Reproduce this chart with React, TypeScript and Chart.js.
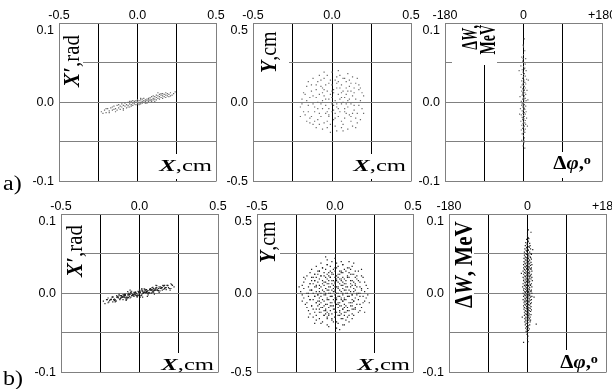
import React, { useEffect, useRef } from 'react';
import { Chart, registerables } from 'chart.js';

Chart.register(...registerables);

// ---------- tick labels ----------
const cmTickLabels = ['-0.5', '', '0.0', '', '0.5'];
const radTickLabels = ['-0.1', '', '0.0', '', '0.1'];
const mevTickLabels = ['-0.1', '', '0.0', '', '0.1'];
const phaseTickLabels = ['-180', '', '0', '', '+180'];

// ---------- data (flat x,y pairs) ----------
// a1 / b1: X in 0.01 cm, X' in 0.001 rad
const a1Pts = [
  -23,-12, -21,-10, -20,-13, -19,-8, -18,-11, -17,-7, -16,-10, -15,-9, -15,-5, -14,-8, -13,-10, -13,-4, -12,-7, -12,-3,
  -11,-9, -11,-5, -10,-6, -10,-2, -9,-8, -9,-4, -8,-5, -8,-1, -7,-7, -7,-3, -6,-4, -6,0, -5,-6, -5,-2, -5,1, -4,-3,
  -4,-5, -3,-1, -3,-4, -3,2, -2,-2, -2,1, -1,-3, -1,0, -1,2, 0,-2, 0,1, 0,3, 1,-1, 1,2, 1,-3, 2,0, 2,3, 2,-2, 3,1, 3,4,
  3,-1, 4,2, 4,0, 4,5, 5,1, 5,3, 5,-1, 6,4, 6,2, 7,5, 7,1, 7,3, 8,2, 8,6, 8,4, 9,3, 9,7, 9,1, 10,5, 10,8, 10,3, 11,4,
  11,7, 12,6, 12,9, 12,3, 13,5, 13,8, 14,7, 14,10, 14,4, 15,6, 15,9, 16,8, 16,11, 16,5, 17,7, 17,10, 18,9, 18,6, 19,11,
  19,8, 20,10, 20,7, 21,12, 22,9, 23,11, 24,13, -22,-14, -20,-8, -18,-13, -16,-6, -14,-12, -9,-10, -6,-6, -4,1, 2,5,
  6,-1, 11,1, 13,12, 15,11, 18,12, 21,8,
];
const b1Pts = [
  -22,-13, -21,-8, -20,-6, -19,-9, -18,-8, -17,-5, -16,-9, -15,-10, -14,-5, -13,-3, -12,-6, -11,-5, -10,-2, -9,-6, -8,-7,
  -7,-2, -6,0, -5,-3, -4,-2, -3,1, -2,-3, -1,-3, 0,1, 1,3, 2,0, 3,1, 4,4, 5,0, 6,0, 7,4, 8,7, 9,3, 10,4, 11,7, 12,3,
  13,3, 14,7, 15,10, 16,6, 17,7, 18,10, 19,6, 20,6, 21,10,
  -20.5,-8, -19.5,-11, -18.5,-8, -17.5,-5, -16.5,-8, -15.5,-11, -14.5,-5, -13.5,-5, -12.5,-8, -11.5,-5, -10.5,-2, -9.5,-5,
  -8.5,-8, -7.5,-2, -6.5,-2, -5.5,-5, -4.5,-2, -3.5,1, -2.5,-2, -1.5,-5, -0.5,2, 0.5,1, 1.5,-2, 2.5,1, 3.5,4, 4.5,1, 5.5,-2,
  6.5,5, 7.5,4, 8.5,2, 9.5,4, 10.5,7, 11.5,4, 12.5,1, 13.5,8, 14.5,7, 15.5,5, 16.5,7, 17.5,10, 18.5,7, 19.5,4, 20.5,11,
  -18,-7.5, -17,-4.5, -16,-7.5, -15,-9.5, -14,-4.5, -13,-1.5, -12,-6.5, -11,-4.5, -10,-3.5, -9,-1.5, -8,-4.5, -7,-5.5,
  -6,-1.5, -5,2.5, -4,-3.5, -3,-0.5, -2,-0.5, -1,2.5, 0,-0.5, 1,-2.5, 2,2.5, 3,5.5, 4,0.5, 5,2.5, 6,3.5, 7,5.5, 8,3.5,
  9,1.5, 10,5.5, 11,9.5, 12,3.5, 13,6.5, 14,6.5, 15,9.5, 16,6.5, 17,4.5, 18,9.5,
  -15.5,-8, -14.5,-3, -13.5,-6, -12.5,-7, -11.5,-3, -10.5,-8, -9.5,-3, -8.5,-9, -7.5,2, -6.5,-4, -5.5,1, -4.5,-2, -3.5,-4,
  -2.5,1, -1.5,-4, -0.5,1, 0.5,-5, 1.5,6, 2.5,0, 3.5,5, 4.5,2, 5.5,0, 6.5,5, 7.5,0, 8.5,5, 9.5,-1, 10.5,10, 11.5,4,
  12.5,8, 13.5,6, 14.5,4, 15.5,9,
  -12,-3, -11,-5, -10,-5, -9,-3, -8,-6, -7,0, -6,-6, -5,0, -4,-2, -3,-2, -2,0, -1,-2, 0,3, 1,-3, 2,3, 3,1, 4,1, 5,3,
  6,1, 7,6, 8,1, 9,6, 10,4, 11,4, 12,6,
  -10.5,-4.5, -9.5,-1.5, -8.5,-5.5, -7.5,-5.5, -6.5,-1.5, -5.5,1.5, -4.5,-2.5, -3.5,-1.5, -2.5,1.5, -1.5,-2.5, -0.5,-2.5,
  0.5,1.5, 1.5,4.5, 2.5,0.5, 3.5,2.5, 4.5,4.5, 5.5,0.5, 6.5,0.5, 7.5,4.5, 8.5,7.5, 9.5,3.5, 10.5,5.5,
  -20,-12, -23,-10, 22,8, 20,12, -17,-11, 16,10, 5,-4, -6,4, 0,5, 2,-5,
];

// a2 / b2: X and Y in 0.01 cm
const a2Pts = [
  3,12, -5,8, 10,-3, -12,4, 7,15, -2,-9, 14,6, -8,-14, 0,3, 5,-6, -15,-2, 18,1, -3,17, 9,9, -10,11, 12,-12, -6,-4, 2,-15,
  16,-7, -18,6, 4,20, -1,-19, 11,2, -13,-9, 6,-1, -7,14, 15,12, -4,2, 1,8, 8,-10, -11,-6, 19,-4, -16,10, 3,-3, -9,0,
  13,16, -2,12, 6,6, -14,-13, 10,-17, 0,-6, -5,19, 17,8, -20,-3, 2,1, 7,-14, -8,5, 12,-1, -3,-12, 9,13, -12,15, 15,-10,
  1,-2, -6,9, 20,4, -17,-8, 4,-9, -1,5, 11,10, -10,-16, 5,17, -19,2, 14,-5, -4,-7, 8,3, -7,-1, 3,-18, 16,15, -13,7, 0,11,
  6,-12, -15,13, 10,7, -2,-4, 18,-11, -9,-11, 7,0, -5,4, 13,-15, 2,14, -11,-3, 9,-7, -16,-12, 4,5, -3,7, 15,2, -8,17,
  1,-11, 12,12, -6,-17, 17,-2, -12,-1, 5,9, -1,-14, 10,18, -14,3, 8,-4, -10,8, 3,16, -18,-6, 6,11, -4,-2, 14,9, -7,-9,
  0,19, 11,-8, -2,2, 19,6, -17,5, 7,-18, -9,13, 2,-7, 13,4, -5,-13, 9,-1, -13,11, 16,-13, 1,6, -6,1, 4,-4, -20,-9, 12,7,
  -3,-6, 8,15, -11,-12, 18,9, 0,-1, -8,-7, 5,2, 3,9, -15,-6, 6,-16, -1,14, 14,-2, -12,-14, 10,1, -4,11, 7,7, -9,-4, 2,-10,
  20,-7, -16,1, 11,14, -6,6, 1,-5, -10,3, 13,-7, 4,13, -3,-16, 9,5, -7,10, 15,-16, -14,-10, 0,7, 6,3, -2,-8, 17,11,
  -19,-1, 8,-6, -5,15, 12,-9, 3,-1,
];
const b2Pts = [
  -5,21, 0,22, 4,20,
  -9,19, -5,18, -2,20, 1,19, 5,18, 9,20,
  -12,17, -8,16, -5,18, -3,17, 0,16, 2,17, 5,18, 8,16, 11,17,
  -15,15, -11,14, -8,16, -6,15, -3,14, -1,15, 1,16, 4,14, 6,15, 9,16, 13,14,
  -16,13, -13,12, -10,14, -7,13, -5,12, -2,13, 0,14, 2,12, 4,13, 7,14, 9,13, 12,12, 15,14,
  -18,11, -14,10, -11,12, -9,11, -6,10, -4,11, -2,12, 0,10, 1,11, 3,12, 5,10, 8,11, 10,12, 13,10, 17,11,
  -19,9, -15,8, -12,10, -10,9, -8,8, -5,9, -3,10, -1,8, 1,9, 2,10, 4,8, 6,9, 9,10, 11,8, 14,9, 18,10,
  -20,7, -16,6, -13,8, -11,7, -8,6, -6,7, -4,8, -2,6, 0,7, 1,8, 3,6, 5,7, 7,8, 10,6, 12,7, 15,8, 19,7,
  -21,5, -17,4, -14,6, -12,5, -9,4, -7,5, -5,6, -3,4, -1,5, 0,6, 2,4, 4,5, 6,6, 8,4, 11,5, 13,6, 16,4, 20,5,
  -20,3, -16,2, -13,4, -10,3, -8,2, -6,3, -4,4, -2,2, -1,3, 1,4, 3,2, 5,3, 7,4, 9,2, 12,3, 14,4, 17,2, 21,3,
  -22,1, -18,0, -15,2, -12,1, -9,0, -7,1, -5,2, -3,0, -1,1, 0,2, 2,0, 4,1, 6,2, 8,0, 10,1, 13,2, 16,0, 19,1,
  -21,-1, -17,-2, -14,0, -11,-1, -9,-2, -6,-1, -4,0, -2,-2, 0,-1, 1,0, 3,-2, 5,-1, 7,0, 9,-2, 11,-1, 14,0, 18,-2, 21,-1,
  -20,-3, -16,-4, -13,-2, -10,-3, -8,-4, -5,-3, -3,-2, -1,-4, 0,-3, 2,-2, 4,-4, 6,-3, 8,-2, 11,-4, 13,-3, 16,-2, 20,-3,
  -21,-5, -18,-6, -14,-4, -11,-5, -9,-6, -7,-5, -4,-4, -2,-6, 0,-5, 1,-4, 3,-6, 5,-5, 7,-4, 10,-6, 12,-5, 15,-4, 19,-5,
  -19,-7, -15,-8, -12,-6, -10,-7, -7,-8, -5,-7, -3,-6, -1,-8, 1,-7, 2,-6, 4,-8, 6,-7, 9,-6, 11,-8, 14,-7, 18,-6,
  -18,-9, -14,-10, -11,-8, -8,-9, -6,-10, -4,-9, -2,-8, 0,-10, 2,-9, 3,-8, 5,-10, 8,-9, 10,-8, 13,-10, 17,-9,
  -17,-11, -13,-12, -10,-10, -7,-11, -5,-12, -3,-11, -1,-10, 1,-12, 3,-11, 5,-10, 7,-12, 9,-11, 12,-10, 16,-11,
  -16,-13, -12,-14, -9,-12, -6,-13, -4,-14, -2,-13, 0,-12, 2,-14, 4,-13, 6,-12, 9,-14, 11,-13, 15,-12,
  -14,-15, -10,-16, -7,-14, -5,-15, -2,-16, 0,-15, 3,-14, 5,-16, 8,-15, 12,-14,
  -12,-17, -8,-18, -5,-16, -2,-17, 1,-18, 4,-16, 7,-17, 11,-16,
  -9,-19, -5,-20, -1,-18, 2,-19, 6,-20, 9,-18,
  -4,-21, 1,-22, 5,-20,
  -10,14, -4,13, 3,14, 10,15, -13,12, -7,11, -1,12, 5,13, 11,12, -15,10, -9,11, -3,10, 3,9, 8,10, 14,11,
  -13,8, -7,7, -2,8, 4,9, 10,8, 16,7, -16,6, -10,5, -4,6, 2,7, 7,6, 13,5, -12,4, -6,3, 0,4, 5,5, 10,4, 17,3,
  -15,2, -10,1, -4,2, 2,3, 7,2, 12,1, -17,0, -11,-1, -6,0, 0,1, 5,0, 11,-1, 15,0, -13,-2, -7,-1, -2,-2, 4,-3, 9,-2, 14,-1,
  -16,-4, -10,-5, -5,-4, 1,-3, 6,-4, 12,-5, -12,-6, -6,-7, 0,-6, 5,-5, 11,-6, 16,-7, -15,-8, -9,-9, -3,-8, 2,-7, 7,-8,
  13,-9, -12,-10, -6,-11, 0,-10, 6,-9, 11,-10, -10,-12, -4,-13, 3,-12, 8,-11, -7,-14, 0,-15, 6,-14,
  -23,4, 22,-6, -6,23, 3,-23, 17,15, -17,-15, 19,-12, -20,10, 12,19, -13,-19,
];

// a3 / b3: dPhi in degrees, dW in 0.001 MeV
const a3Pts = [
  2,80, -1,72, 3,65, 0,60, -4,57, 5,55, -2,52, 1,50, 4,48, -6,46, 0,45, 3,43, -3,41, 6,40, -1,38, 2,36, -5,35, 4,33,
  0,32, -2,30, 7,29, 1,28, -4,27, 3,25, -1,24, 5,23, -3,22, 0,21, 2,20, -6,19, 4,18, -2,17, 1,16, 8,15, -4,14, 0,13,
  3,12, -1,11, 5,10, -3,9, 2,8, -8,7, 0,6, 4,5, -2,4, 1,3, 6,2, -5,1, 3,0, -1,-1, 0,-2, 2,-3, -4,-4, 5,-5, -2,-6, 1,-7,
  -7,-8, 3,-9, 0,-10, -3,-11, 6,-12, 2,-13, -1,-14, 4,-15, -5,-16, 0,-17, 2,-18, -3,-19, 7,-20, 1,-21, -2,-22, 4,-23,
  -6,-24, 0,-25, 3,-26, -1,-27, 5,-28, -4,-29, 2,-30, 0,-31, -2,-33, 4,-34, -5,-35, 1,-36, 3,-38, -3,-40, 0,-42, 2,-45,
  -4,-48, 1,-51, -1,-55, 3,-58,
  1,5, -1,10, 0,-5, 2,15, -3,-2, 1,25, 0,35, -1,-20, 2,-8, -2,12, 10,3, -9,-15, 11,28, -10,40, 9,-30, 0,70, 1,-48,
  -1,55, 0,-38, 2,42,
];
const b3Pts = [
  2,80, 0,76, 8,77,
  0,72, 2,70, -2,68, 1,66, 3,69, -4,64, -1,62, 2,65, 5,63, -5,60, -2,58, 0,61, 3,59, 6,60,
  -6,56, -3,54, -1,57, 1,55, 4,58, 7,56, -7,52, -4,50, -2,53, 0,51, 2,54, 5,52, 8,50,
  -7,48, -5,46, -2,49, 0,47, 1,50, 3,48, 6,46, 9,49, -8,44, -5,42, -3,45, -1,43, 1,46, 2,44, 4,42, 7,45, 9,43,
  -8,40, -6,38, -3,41, -1,39, 0,42, 2,40, 3,38, 5,41, 8,39, -9,36, -6,34, -4,37, -2,35, 0,38, 1,36, 3,34, 5,37, 7,35, 10,36,
  -9,32, -7,30, -4,33, -2,31, -1,34, 1,32, 2,30, 4,33, 6,31, 9,32, -10,28, -7,26, -5,29, -3,27, -1,30, 0,28, 2,26, 3,29,
  5,27, 8,30, 10,28, -9,24, -6,22, -4,25, -2,23, 0,26, 1,24, 3,22, 4,25, 6,23, 9,24,
  -10,20, -8,18, -5,21, -3,19, -1,22, 0,20, 2,18, 4,21, 5,19, 7,22, 10,20,
  -9,16, -6,14, -4,17, -2,15, -1,18, 1,16, 2,14, 3,17, 5,15, 8,18, 11,16,
  -10,12, -7,10, -5,13, -3,11, -1,14, 0,12, 2,10, 4,13, 6,11, 9,12,
  -11,8, -8,6, -5,9, -3,7, -2,10, 0,8, 1,6, 3,9, 5,7, 7,10, 10,8,
  -9,4, -6,2, -4,5, -2,3, -1,6, 1,4, 2,2, 4,5, 6,3, 9,4,
  -10,0, -7,-2, -5,1, -3,-1, -1,2, 0,0, 2,-2, 3,1, 5,-1, 8,2, 10,0,
  -9,-4, -6,-6, -4,-3, -2,-5, 0,-2, 1,-4, 3,-6, 5,-3, 7,-5, 10,-4,
  -10,-8, -7,-10, -5,-7, -3,-9, -1,-6, 0,-8, 2,-10, 4,-7, 6,-9, 9,-8,
  -8,-12, -6,-14, -4,-11, -2,-13, -1,-10, 1,-12, 2,-14, 4,-11, 7,-13, 9,-12,
  -9,-16, -7,-18, -4,-15, -2,-17, 0,-14, 1,-16, 3,-18, 5,-15, 8,-17,
  -8,-20, -5,-22, -3,-19, -1,-21, 0,-18, 2,-20, 4,-22, 6,-19, 9,-21,
  -7,-24, -5,-26, -3,-23, -1,-25, 1,-22, 2,-24, 4,-26, 7,-23,
  -7,-28, -4,-30, -2,-27, 0,-29, 1,-26, 3,-28, 6,-30, 8,-27,
  -6,-32, -4,-34, -1,-31, 0,-33, 2,-30, 4,-32, 7,-34, -6,-36, -3,-38, -1,-35, 1,-37, 3,-34, 6,-36,
  -5,-40, -2,-42, 0,-39, 2,-41, 5,-40, -4,-44, -1,-46, 1,-43, 4,-45, -3,-48, 0,-50, 2,-47, -1,-52, 1,-54, 0,-57, 1,-61,
  20,-39, -14,25, 15,-5, -12,-30, 12,55, -9,-62,
];

// ---------- label drawing ----------
const SERIF = '"Liberation Serif", "Times New Roman", serif';
const SANS = '"Liberation Sans", Arial, sans-serif';
const fR = (s: number) => `${s}px ${SERIF}`;
const fB = (s: number) => `bold ${s}px ${SERIF}`;
const fBI = (s: number) => `italic bold ${s}px ${SERIF}`;

type Seg = { t: string; f: string; dy?: number };
type Lbl = { segs: Seg[]; x: number; y: number; s: number; vertical?: boolean; align?: 'start' | 'end' };
type Box = { x: number; y: number; w: number; h: number };

function drawLabel(ctx: CanvasRenderingContext2D, l: Lbl, ox: number, oy: number) {
  ctx.save();
  ctx.fillStyle = '#000';
  ctx.textBaseline = 'alphabetic';
  ctx.textAlign = 'left';
  let total = 0;
  const widths = l.segs.map((sg) => {
    ctx.font = sg.f;
    const w = ctx.measureText(sg.t).width;
    total += w;
    return w;
  });
  ctx.translate(l.x - ox, l.y - oy);
  let cx: number;
  if (l.vertical) {
    ctx.rotate(-Math.PI / 2);
    ctx.scale(1, l.s);
    cx = l.align === 'end' ? -total : 0;
  } else {
    ctx.scale(l.s, 1);
    cx = -total;
  }
  l.segs.forEach((sg, i) => {
    ctx.font = sg.f;
    ctx.fillText(sg.t, cx, sg.dy || 0);
    cx += widths[i];
  });
  ctx.restore();
}

// ---------- panel ----------
type PanelProps = {
  L: number; T: number; R: number; B: number;
  pts: number[]; xDiv: number; yDiv: number;
  xMin: number; xMax: number; xLabels: string[];
  yMin: number; yMax: number; yLabels: string[];
  color: string;
  labels: Lbl[]; boxes: Box[];
};

const PAD_L = 45, PAD_T = 23, PAD_R = 15, PAD_B = 12;

function Panel(p: PanelProps) {
  const ref = useRef<HTMLCanvasElement>(null);
  const cl = p.L - PAD_L, ct = p.T - PAD_T;
  const cw = p.R - p.L + PAD_L + PAD_R, ch = p.B - p.T + PAD_T + PAD_B;
  useEffect(() => {
    const data: { x: number; y: number }[] = [];
    for (let i = 0; i + 1 < p.pts.length; i += 2) data.push({ x: p.pts[i] / p.xDiv, y: p.pts[i + 1] / p.yDiv });
    const labelPlugin = {
      id: 'panelLabels',
      afterDatasetsDraw(chart: any) {
        const ctx = chart.ctx as CanvasRenderingContext2D;
        ctx.save();
        ctx.fillStyle = '#fff';
        p.boxes.forEach((b) => ctx.fillRect(b.x - cl, b.y - ct, b.w, b.h));
        ctx.restore();
        p.labels.forEach((l) => drawLabel(ctx, l, cl, ct));
      },
    };
    const gray = '#808080';
    const chart = new Chart(ref.current!, {
      type: 'scatter',
      data: {
        datasets: [{
          data,
          pointStyle: 'rect',
          pointRadius: 0.85,
          pointHoverRadius: 0,
          borderWidth: 0,
          backgroundColor: p.color,
          borderColor: p.color,
        }],
      },
      options: {
        animation: false,
        responsive: false,
        maintainAspectRatio: false,
        devicePixelRatio: 1,
        events: [],
        layout: { padding: { left: 0, top: 0, right: PAD_R, bottom: PAD_B } },
        plugins: { legend: { display: false }, tooltip: { enabled: false } },
        scales: {
          x: {
            type: 'linear',
            position: 'top',
            min: p.xMin,
            max: p.xMax,
            afterFit: (s: any) => { s.height = PAD_T; },
            border: { display: false },
            grid: {
              drawTicks: false,
              lineWidth: 1,
              color: (c: any) => (c.index === 0 || c.index === 4 ? gray : '#000'),
            },
            ticks: {
              stepSize: (p.xMax - p.xMin) / 4,
              autoSkip: false,
              maxRotation: 0,
              minRotation: 0,
              padding: 0,
              color: '#000',
              font: { family: SANS, size: 12.5 },
              callback: (_v: any, i: number) => p.xLabels[i] ?? '',
            },
          },
          y: {
            type: 'linear',
            position: 'left',
            min: p.yMin,
            max: p.yMax,
            afterFit: (s: any) => { s.width = PAD_L; },
            border: { display: false },
            grid: { drawTicks: false, lineWidth: 1, color: gray },
            ticks: {
              stepSize: (p.yMax - p.yMin) / 4,
              autoSkip: false,
              padding: 5,
              color: '#000',
              font: { family: SANS, size: 12.5 },
              callback: (_v: any, i: number) => (i === 4 ? ['', p.yLabels[i]] : p.yLabels[i] ?? ''),
            },
          },
        },
      },
      plugins: [labelPlugin],
    } as any);
    return () => chart.destroy();
  }, []);
  return (
    <canvas
      ref={ref}
      width={cw}
      height={ch}
      style={{ position: 'absolute', left: cl, top: ct, width: cw, height: ch }}
    />
  );
}

// ---------- label specs ----------
const xcm = (x: number, y: number): Lbl => ({ x, y, s: 1.45, segs: [{ t: 'X', f: fBI(17) }, { t: ',cm', f: fR(17) }] });
const xpr = (x: number, y: number): Lbl => ({ x, y, vertical: true, align: 'start', s: 1.1, segs: [{ t: 'X\u2032', f: fBI(21) }, { t: ',rad', f: fR(21) }] });
const ycm = (x: number, y: number): Lbl => ({ x, y, vertical: true, align: 'start', s: 1.13, segs: [{ t: 'Y', f: fBI(20) }, { t: ',cm', f: fR(20) }] });
const dphi = (x: number, y: number): Lbl => ({
  x, y, s: 1.1,
  segs: [{ t: '\u0394', f: fB(19) }, { t: '\u03C6', f: fBI(19) }, { t: ',', f: fB(19) }, { t: 'o', f: fB(13), dy: -5 }],
});

export default function App() {
  const aColor = '#6a6a6a';
  const bColor = '#222222';
  return (
    <div style={{ position: 'absolute', left: 0, top: 0, width: 612, height: 389, background: '#fff', overflow: 'hidden' }}>
      <Panel L={59} T={23} R={216} B={182} pts={a1Pts} xDiv={100} yDiv={1000}
        xMin={-0.5} xMax={0.5} xLabels={cmTickLabels} yMin={-0.1} yMax={0.1} yLabels={radTickLabels} color={aColor}
        labels={[xpr(79, 87), xcm(212, 171)]}
        boxes={[{ x: 60, y: 24, w: 23, h: 66 }, { x: 157, y: 154, w: 58, h: 25 }]} />
      <Panel L={253} T={23} R={411} B={182} pts={a2Pts} xDiv={100} yDiv={100}
        xMin={-0.5} xMax={0.5} xLabels={cmTickLabels} yMin={-0.5} yMax={0.5} yLabels={cmTickLabels} color={aColor}
        labels={[ycm(276, 73), xcm(406, 171)]}
        boxes={[{ x: 254, y: 24, w: 35, h: 53 }, { x: 351, y: 154, w: 59, h: 25 }]} />
      <Panel L={445} T={23} R={602} B={182} pts={a3Pts} xDiv={1} yDiv={1000}
        xMin={-180} xMax={180} xLabels={phaseTickLabels} yMin={-0.1} yMax={0.1} yLabels={mevTickLabels} color={aColor}
        labels={[
          { x: 477, y: 25, vertical: true, align: 'end', s: 1.6, segs: [{ t: '\u0394', f: fB(14) }, { t: 'W', f: fBI(14) }, { t: ',', f: fB(14) }] },
          { x: 495, y: 25, vertical: true, align: 'end', s: 1.6, segs: [{ t: 'MeV', f: fB(14) }] },
          dphi(591, 169),
        ]}
        boxes={[{ x: 452, y: 24, w: 45, h: 41 }, { x: 548, y: 152, w: 52, h: 26 }]} />

      <Panel L={61} T={214} R={218} B={373} pts={b1Pts} xDiv={100} yDiv={1000}
        xMin={-0.5} xMax={0.5} xLabels={cmTickLabels} yMin={-0.1} yMax={0.1} yLabels={radTickLabels} color={bColor}
        labels={[xpr(82, 277), xcm(214, 370)]}
        boxes={[{ x: 62, y: 215, w: 21, h: 66 }, { x: 159, y: 353, w: 58, h: 19 }]} />
      <Panel L={257} T={214} R={413} B={373} pts={b2Pts} xDiv={100} yDiv={100}
        xMin={-0.5} xMax={0.5} xLabels={cmTickLabels} yMin={-0.5} yMax={0.5} yLabels={cmTickLabels} color={bColor}
        labels={[ycm(275, 263), xcm(410, 370)]}
        boxes={[{ x: 258, y: 215, w: 22, h: 51 }, { x: 354, y: 353, w: 58, h: 19 }]} />
      <Panel L={449} T={214} R={606} B={373} pts={b3Pts} xDiv={1} yDiv={1000}
        xMin={-180} xMax={180} xLabels={phaseTickLabels} yMin={-0.1} yMax={0.1} yLabels={mevTickLabels} color={bColor}
        labels={[
          { x: 472, y: 308, vertical: true, align: 'start', s: 1.15, segs: [{ t: '\u0394', f: fB(21) }, { t: 'W', f: fBI(21) }, { t: ', MeV', f: fB(21) }] },
          dphi(598, 368),
        ]}
        boxes={[{ x: 450, y: 215, w: 24, h: 97 }, { x: 550, y: 350, w: 55, h: 22 }]} />

      <div style={{ position: 'absolute', left: 3, top: 173, fontFamily: SERIF, fontSize: 20, lineHeight: '20px', transform: 'scaleX(1.2)', transformOrigin: 'left top' }}>a)</div>
      <div style={{ position: 'absolute', left: 3, top: 368, fontFamily: SERIF, fontSize: 20, lineHeight: '20px', transform: 'scaleX(1.2)', transformOrigin: 'left top' }}>b)</div>
    </div>
  );
}
